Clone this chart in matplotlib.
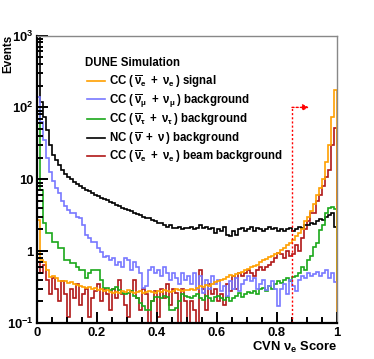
import numpy as np
import matplotlib
matplotlib.use("Agg")
import matplotlib.pyplot as plt
from matplotlib.lines import Line2D
from matplotlib.ticker import MultipleLocator, LogLocator, FixedLocator, FixedFormatter

plt.rcParams['font.family'] = ['Liberation Sans', 'DejaVu Sans']
plt.rcParams['font.weight'] = 'bold'
plt.rcParams['mathtext.fontset'] = 'custom'
plt.rcParams['mathtext.rm'] = 'Liberation Sans:bold'
plt.rcParams['mathtext.it'] = 'Liberation Sans:bold'
plt.rcParams['mathtext.bf'] = 'Liberation Sans:bold'
plt.rcParams['mathtext.default'] = 'rm'

# 100 bins of CVN nue score, 0..1
edges = np.linspace(0, 1, 101)

signal = [2.7, 0.75, 0.7, 0.54, 0.43, 0.45, 0.42, 0.39, 0.39, 0.39,
          0.36, 0.37, 0.35, 0.34, 0.33, 0.32, 0.31, 0.32, 0.30, 0.31,
          0.29, 0.30, 0.28, 0.29, 0.27, 0.26, 0.27, 0.26, 0.28, 0.27,
          0.29, 0.27, 0.26, 0.27, 0.28, 0.26, 0.27, 0.28, 0.27, 0.26,
          0.28, 0.27, 0.29, 0.28, 0.27, 0.28, 0.30, 0.29, 0.28, 0.29,
          0.29, 0.30, 0.29, 0.31, 0.33, 0.32, 0.34, 0.33, 0.35, 0.37,
          0.38, 0.40, 0.41, 0.44, 0.46, 0.45, 0.48, 0.50, 0.52, 0.55,
          0.57, 0.60, 0.63, 0.65, 0.70, 0.75, 0.78, 0.82, 0.85, 0.90,
          0.95, 1.03, 1.10, 1.20, 1.30, 1.45, 1.60, 1.80, 2.00, 2.60,
          3.0, 3.6, 4.5, 6.0, 7.5, 10.0, 17.5, 30.0, 74.0, 176.0]

numu_bkg = [140, 63, 35, 20, 12.6, 9.5, 7.5, 6.4, 5.0, 4.2,
            3.7, 3.4, 3.4, 3.0, 2.9, 2.3, 1.7, 1.5, 1.34, 1.34,
            1.1, 0.97, 0.83, 0.85, 0.75, 0.80, 0.65, 0.70, 0.60, 0.80,
            0.75, 0.55, 0.70, 0.60, 0.50, 0.31, 0.33, 0.55, 0.60, 0.50,
            0.55, 0.45, 0.60, 0.50, 0.40, 0.50, 0.42, 0.35, 0.50, 0.40,
            0.45, 0.35, 0.50, 0.30, 0.45, 0.26, 0.40, 0.30, 0.45, 0.35,
            0.40, 0.28, 0.33, 0.24, 0.38, 0.30, 0.42, 0.28, 0.35, 0.40,
            0.45, 0.38, 0.42, 0.30, 0.35, 0.40, 0.29, 0.33, 0.38, 0.30,
            0.17, 0.30, 0.35, 0.25, 0.40, 0.33, 0.28, 0.40, 0.45, 0.42,
            0.50, 0.45, 0.48, 0.52, 0.45, 0.50, 0.55, 0.42, 0.50, 0.37]

nutau_bkg = [100, 7.1, 2.5, 1.8, 1.8, 1.34, 1.34, 1.1, 1.1, 0.75,
             0.75, 0.68, 0.68, 0.60, 0.54, 0.54, 0.42, 0.50, 0.54, 0.54,
             0.54, 0.40, 0.31, 0.31, 0.29, 0.30, 0.32, 0.29, 0.26, 0.25,
             0.26, 0.28, 0.24, 0.22, 0.19, 0.17, 0.15, 0.15, 0.20, 0.23,
             0.23, 0.22, 0.24, 0.23, 0.15, 0.15, 0.16, 0.20, 0.25, 0.24,
             0.23, 0.22, 0.24, 0.25, 0.22, 0.21, 0.24, 0.22, 0.20, 0.23,
             0.24, 0.22, 0.21, 0.23, 0.20, 0.22, 0.24, 0.26, 0.23, 0.25,
             0.27, 0.26, 0.28, 0.25, 0.30, 0.31, 0.28, 0.33, 0.30, 0.35,
             0.39, 0.36, 0.40, 0.42, 0.38, 0.43, 0.45, 0.50, 0.60, 0.55,
             0.75, 0.85, 1.14, 1.30, 1.96, 2.30, 3.40, 4.00, 4.10, 3.80]

nc_bkg = [1500, 120, 74, 48, 30, 22, 18.6, 15.8, 13.5, 12,
          10.7, 10, 9.2, 8.6, 8.0, 7.6, 7.2, 6.8, 6.5, 6.1,
          5.8, 5.5, 5.3, 5.1, 4.8, 4.6, 4.4, 4.3, 4.0, 3.9,
          3.7, 3.6, 3.4, 3.3, 3.2, 3.0, 2.9, 2.9, 2.7, 2.6,
          2.5, 2.5, 2.3, 2.2, 2.3, 2.1, 2.1, 2.2, 2.0, 2.1,
          2.1, 2.2, 2.0, 2.1, 2.3, 2.1, 2.2, 2.0, 2.1, 1.8,
          2.0, 1.9, 2.2, 1.7, 1.6, 1.9, 1.7, 2.0, 2.1, 1.9,
          2.0, 2.2, 1.9, 2.1, 2.0, 1.9, 2.0, 2.2, 2.0, 2.1,
          1.9, 2.0, 1.9, 2.0, 2.1, 1.9, 2.0, 2.2, 2.1, 2.3,
          2.3, 2.5, 2.4, 2.6, 2.8, 2.7, 3.0, 3.2, 3.4, 2.2]

beam_nue_bkg = [0.7, 0.5, 0.65, 0.4, 0.25, 0.42, 0.3, 0.2, 0.38, 0.25,
                0.12, 0.3, 0.22, 0.35, 0.18, 0.25, 0.3, 0.12, 0.22, 0.28,
                0.35, 0.2, 0.3, 0.25, 0.15, 0.3, 0.22, 0.4, 0.25, 0.18,
                0.12, 0.28, 0.4, 0.22, 0.15, 0.3, 0.25, 0.08, 0.2, 0.28,
                0.12, 0.3, 0.22, 0.35, 0.18, 0.3, 0.26, 0.08, 0.3, 0.2,
                0.1, 0.2, 0.15, 0.08, 0.54, 0.3, 0.15, 0.35, 0.25, 0.3,
                0.2, 0.25, 0.18, 0.35, 0.28, 0.45, 0.3, 0.5, 0.45, 0.5,
                0.55, 0.5, 0.45, 0.55, 0.6, 0.55, 0.6, 0.65, 0.7, 0.8,
                0.95, 0.9, 0.8, 1.0, 0.85, 0.9, 1.2, 1.0, 1.5, 2.0,
                2.6, 3.4, 3.4, 5.0, 6.0, 8.0, 10.8, 13.5, 30.0, 52.0]

labels = [r"CC ($\,\overline{\nu}_{e}\,$ + $\,\nu_{e}\,$) signal",
          r"CC ($\,\overline{\nu}_{\mu}\,$ + $\,\nu_{\mu}\,$) background",
          r"CC ($\,\overline{\nu}_{\tau}\,$ + $\,\nu_{\tau}\,$) background",
          r"NC ($\,\overline{\nu}\,$ + $\,\nu\,$) background",
          r"CC ($\,\overline{\nu}_{e}\,$ + $\,\nu_{e}\,$) beam background"]
colors = ['#ffa000', '#7878ff', '#1aa81a', '#000000', '#b01818']
xticks = [0, 0.2, 0.4, 0.6, 0.8, 1.0]
xtick_labels = ['0', '0.2', '0.4', '0.6', '0.8', '1']
yticks = [0.1, 1, 10, 100, 1000]
ytick_labels = [r'$10^{-1}$', '1', '10', r'$10^{2}$', r'$10^{3}$']
cut = 0.85

fig = plt.figure(figsize=(3.74, 3.59), dpi=100)
ax = fig.add_axes([0.0989, 0.1003, 0.8021, 0.8008])

series = [signal, numu_bkg, nutau_bkg, nc_bkg, beam_nue_bkg]
# draw in reverse so the signal sits on top
for vals, c in list(zip(series, colors))[::-1]:
    ax.stairs(vals, edges, color=c, lw=1.2)

ax.set_yscale('log')
ax.set_xlim(0, 1)
ax.set_ylim(0.1, 1000)

# cut line with arrow
ax.vlines(cut, 0.1, 100, colors='#ff0000', linestyles=(0, (1.5, 1.5)), lw=1)
ax.annotate('', xy=(cut + 0.057, 100), xytext=(cut, 100),
            arrowprops=dict(arrowstyle='-|>', color='#ff0000', lw=1,
                            linestyle=(0, (1.5, 1.5)), mutation_scale=9,
                            shrinkA=0, shrinkB=0))

# axes style like ROOT
ax.spines['top'].set_color('#888888')
ax.spines['right'].set_color('#888888')
ax.spines['top'].set_linewidth(1)
ax.spines['right'].set_linewidth(1)
ax.spines['left'].set_linewidth(1.6)
ax.spines['bottom'].set_linewidth(1.6)
ax.xaxis.set_major_locator(FixedLocator(xticks))
ax.xaxis.set_major_formatter(FixedFormatter(xtick_labels))
ax.xaxis.set_minor_locator(MultipleLocator(0.05))
ax.yaxis.set_major_locator(FixedLocator(yticks))
ax.yaxis.set_major_formatter(FixedFormatter(ytick_labels))
ax.yaxis.set_minor_locator(LogLocator(base=10, subs=np.arange(2, 10)))
ax.tick_params(which='both', direction='in', top=False, right=False,
               labelsize=9.4, width=1.4, pad=2.5)
ax.tick_params(which='major', length=8)
ax.tick_params(which='minor', length=4.5)
ax.tick_params(axis='x', pad=3)

fig.text(337 / 374, 1 - 340 / 359, r"CVN $\nu_{e}$ Score", fontsize=9.4,
         ha='right', va='top')
fig.text(8.5 / 374, 1 - 35 / 359, "Events", fontsize=8.4, rotation=90,
         ha='center', va='top')

# legend: title as its own text, entries below
fig.text(85 / 374, 1 - 62.7 / 359, "DUNE Simulation", fontsize=8.3,
         ha='left', va='center')
handles = [Line2D([], [], color=c, lw=1.2) for c in colors]
leg = ax.legend(handles, labels, loc='center left',
                bbox_to_anchor=(0.1667, 0.709), frameon=False, fontsize=8.3,
                handlelength=1.6, handletextpad=0.35,
                labelspacing=0.15, borderaxespad=0, borderpad=0)

fig.savefig("out.png", dpi=100)
